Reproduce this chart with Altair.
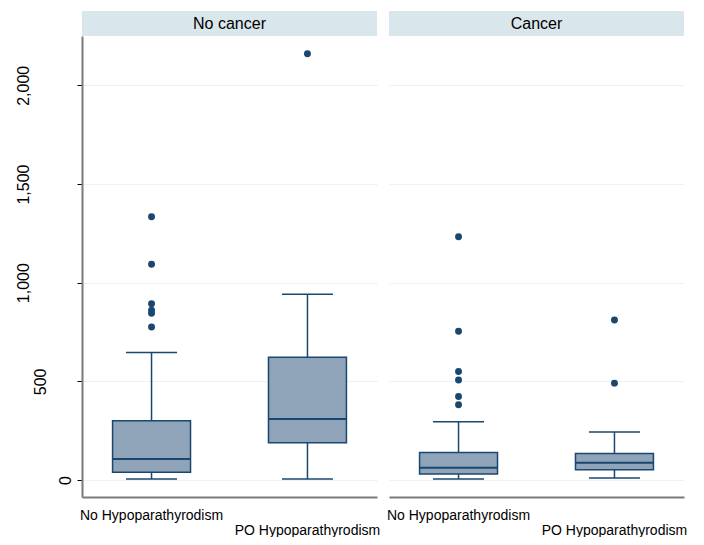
import altair as alt
import pandas as pd

# ---- data ----
panels = ["No cancer", "Cancer"]
groups = ["No Hypoparathyrodism", "PO Hypoparathyrodism"]

box_panel = ["No cancer", "No cancer", "Cancer", "Cancer"]
box_group = ["No Hypoparathyrodism", "PO Hypoparathyrodism",
             "No Hypoparathyrodism", "PO Hypoparathyrodism"]
lower = [5, 5, 5, 10]
q1 = [39, 189, 30, 52]
median = [106, 309, 62, 88]
q3 = [300, 622, 140, 135]
upper = [646, 942, 295, 244]

out_panel = ["No cancer"] * 6 + ["No cancer"] + ["Cancer"] * 6 + ["Cancer"] * 2
out_group = (["No Hypoparathyrodism"] * 6 + ["PO Hypoparathyrodism"]
             + ["No Hypoparathyrodism"] * 6 + ["PO Hypoparathyrodism"] * 2)
out_value = [775, 845, 860, 893, 1093, 1334,
             2160,
             381, 423, 507, 550, 754, 1233,
             491, 811]

y_ticks = [0, 500, 1000, 1500, 2000]
y_domain = [-86, 2250]

# ---- styles ----
NAVY = "#1A476F"
FILL = "#8FA4B8"
STRIP = "#D9E6EB"
GRID = "#EAF2F3"
AXIS = "#7A7A7A"
FONT = "Liberation Sans"
W, H = 295, 461

box_df = pd.DataFrame({"panel": box_panel, "group": box_group, "lower": lower,
                       "q1": q1, "median": median, "q3": q3, "upper": upper})
out_df = pd.DataFrame({"panel": out_panel, "group": out_group, "value": out_value})


def panel_chart(name, first):
    bdf = box_df[box_df.panel == name]
    odf = out_df[out_df.panel == name]
    xscale = alt.Scale(domain=groups, type="band", paddingInner=0.5, paddingOuter=0.196)
    xaxis = alt.Axis(
        title=None, labelAngle=0, ticks=False, labelBaseline="top",
        labelFont=FONT, labelFontSize=14, labelColor="#000000",
        labelPadding={"condition": {"test": f"datum.value == '{groups[1]}'", "value": 26},
                      "value": 11},
        labelLimit=400, domainColor=AXIS, domainWidth=2, grid=False,
    )
    yscale = alt.Scale(domain=y_domain, nice=False, zero=False)
    if first:
        yaxis = alt.Axis(
            title=None, values=y_ticks, labelExpr="format(datum.value, ',')",
            labelAngle=-90, labelAlign="center", labelBaseline="alphabetic",
            labelFont=FONT, labelFontSize=16, labelColor="#000000",
            labelPadding={"condition": [{"test": "datum.value == 0", "value": 7},
                                        {"test": "datum.value == 500", "value": 32}],
                          "value": 49},
            tickSize=5, tickColor="#000000", tickWidth=1,
            domainColor=AXIS, domainWidth=2,
            grid=True, gridColor=GRID, gridWidth=1.2,
        )
    else:
        yaxis = alt.Axis(title=None, values=y_ticks, labels=False, ticks=False,
                         domain=False, grid=True, gridColor=GRID, gridWidth=1.2,
                         minExtent=0, maxExtent=0, offset=0)

    X = alt.X("group:N", scale=xscale, axis=xaxis, title=None)
    base = alt.Chart(bdf)

    whisker = base.mark_rule(color=NAVY, strokeWidth=1.5).encode(
        x=X, y=alt.Y("lower:Q", scale=yscale, axis=yaxis, title=None), y2="upper:Q")
    cap_lo = base.mark_tick(color=NAVY, size=51, thickness=1.5, opacity=1).encode(
        x=X, y=alt.Y("lower:Q", scale=yscale, axis=yaxis, title=None))
    cap_hi = base.mark_tick(color=NAVY, size=51, thickness=1.5, opacity=1).encode(
        x=X, y=alt.Y("upper:Q", scale=yscale, axis=yaxis, title=None))
    box = base.mark_bar(color=FILL, stroke=NAVY, strokeWidth=1.5, opacity=1).encode(
        x=X, y=alt.Y("q1:Q", scale=yscale, axis=yaxis, title=None), y2="q3:Q")
    med = base.mark_tick(color=NAVY, size=78, thickness=2, opacity=1).encode(
        x=X, y=alt.Y("median:Q", scale=yscale, axis=yaxis, title=None))
    pts = alt.Chart(odf).mark_circle(color=NAVY, size=48, opacity=1).encode(
        x=X, y=alt.Y("value:Q", scale=yscale, axis=yaxis, title=None))

    hdr = alt.Chart(pd.DataFrame({"panel": [name]}))
    strip = hdr.mark_rect(color=STRIP).encode(
        x=alt.value(0), x2=alt.value(W), y=alt.value(-25), y2=alt.value(0))
    label = hdr.mark_text(font=FONT, fontSize=16, color="#000000",
                          baseline="middle", align="center").encode(
        x=alt.value(W / 2), y=alt.value(-12.5), text="panel:N")

    return alt.layer(whisker, cap_lo, cap_hi, box, med, pts, strip, label).properties(
        width=W, height=H)


chart = alt.hconcat(
    panel_chart(panels[0], True), panel_chart(panels[1], False),
    spacing=12, bounds="flush"
).resolve_scale(y="shared").properties(
    padding={"left": 6, "top": 3, "right": 0, "bottom": 0},
    background="#FFFFFF",
).configure_view(stroke=None)

chart.save("out.html", embed_options={"renderer": "svg", "actions": False})
